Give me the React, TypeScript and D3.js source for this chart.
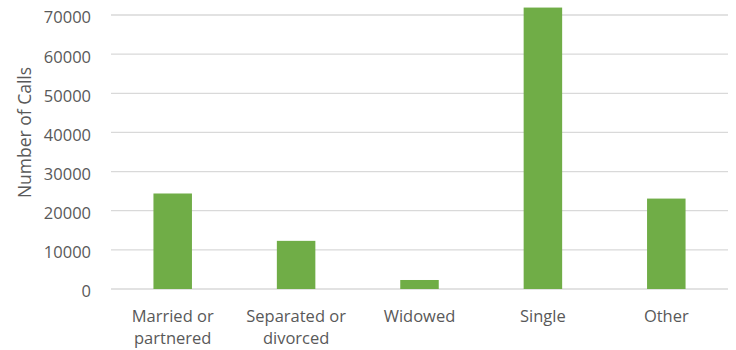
import React from "react";
import * as d3 from "d3";

const categories: string[][] = [
  ["Married or", "partnered"],
  ["Separated or", "divorced"],
  ["Widowed"],
  ["Single"],
  ["Other"],
];
const calls: number[] = [24400, 12300, 2300, 71900, 23100];
const yTicks: number[] = [0, 10000, 20000, 30000, 40000, 50000, 60000, 70000];

const WIDTH = 736;
const HEIGHT = 350;
const margin = { top: 15, right: 8, bottom: 61, left: 111 };
const FONT = "'Open Sans', sans-serif";
const TEXT = "#595959";

export default function App() {
  const x = d3
    .scaleBand<number>()
    .domain(d3.range(categories.length))
    .range([margin.left, WIDTH - margin.right])
    .paddingInner(0.688)
    .paddingOuter(0.344);
  const y = d3
    .scaleLinear()
    .domain([0, 70000])
    .range([HEIGHT - margin.bottom, margin.top]);

  return (
    <svg
      width={WIDTH}
      height={HEIGHT}
      style={{ position: "absolute", left: 0, top: 0, background: "#fff" }}
      fontFamily={FONT}
    >
      {yTicks.map((t) => (
        <g key={t}>
          <line
            x1={margin.left}
            x2={WIDTH - margin.right}
            y1={y(t)}
            y2={y(t)}
            stroke="#d9d9d9"
            strokeWidth={1.3}
          />
          <text
            x={91}
            y={y(t) + 2.5}
            dy="0.36em"
            textAnchor="end"
            fontSize={16.5}
            fill={TEXT}
          >
            {t}
          </text>
        </g>
      ))}
      {calls.map((v, i) => (
        <rect
          key={i}
          x={x(i)}
          y={y(v)}
          width={x.bandwidth()}
          height={y(0) - y(v)}
          fill="#70ad47"
        />
      ))}
      {categories.map((lines, i) => (
        <text
          key={i}
          x={(x(i) as number) + x.bandwidth() / 2}
          y={322}
          textAnchor="middle"
          fontSize={16.5}
          fill={TEXT}
        >
          {lines.map((ln, j) => (
            <tspan key={j} x={(x(i) as number) + x.bandwidth() / 2} dy={j === 0 ? 0 : 21.5}>
              {ln}
            </tspan>
          ))}
        </text>
      ))}
      <text
        transform={`translate(31,132.5) rotate(-90)`}
        textAnchor="middle"
        fontSize={17.5}
        fill={TEXT}
      >
        Number of Calls
      </text>
    </svg>
  );
}
